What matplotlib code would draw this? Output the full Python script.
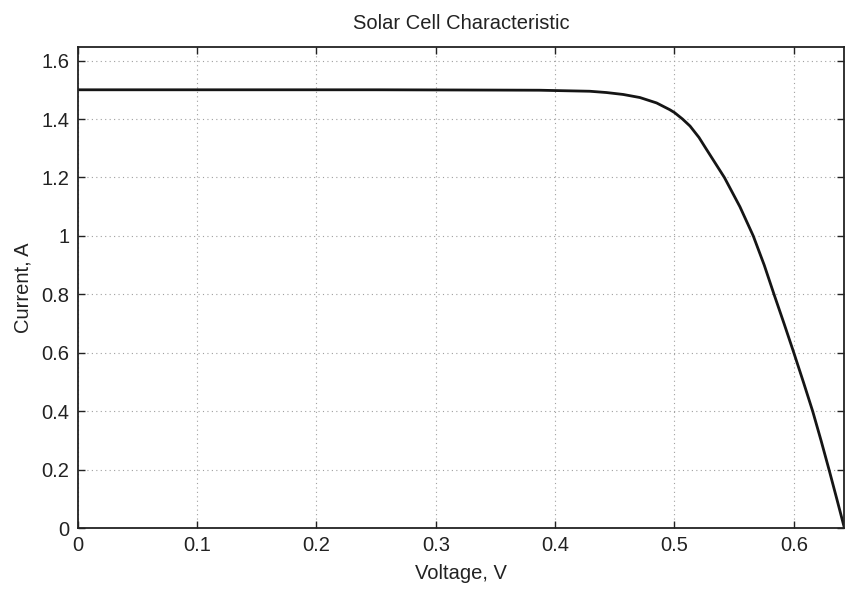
import numpy as np
import matplotlib.pyplot as plt
from matplotlib.ticker import FormatStrFormatter

plt.rcParams['font.family'] = ['Liberation Sans', 'DejaVu Sans']

# values
voltage = [0.0, 0.1, 0.2, 0.25, 0.3, 0.35, 0.387, 0.4, 0.429, 0.443, 0.457,
           0.471, 0.485, 0.496, 0.5, 0.5067, 0.513, 0.5205, 0.5262, 0.5340,
           0.5418, 0.5548, 0.5660, 0.5752, 0.5834, 0.5918, 0.600, 0.608,
           0.6158, 0.6228, 0.6295, 0.636, 0.6424]
current = [1.5, 1.5, 1.5, 1.5, 1.4995, 1.499, 1.4985, 1.4974, 1.495, 1.4906,
           1.484, 1.4735, 1.455, 1.432, 1.422, 1.400, 1.376, 1.337, 1.300,
           1.250, 1.200, 1.100, 1.000, 0.900, 0.800, 0.700, 0.600, 0.500,
           0.400, 0.300, 0.200, 0.100, 0.0]

x_ticks = [0, 0.1, 0.2, 0.3, 0.4, 0.5, 0.6]
y_ticks = [0, 0.2, 0.4, 0.6, 0.8, 1.0, 1.2, 1.4, 1.6]

fig = plt.figure(figsize=(8.46, 5.91), dpi=100)
ax = fig.add_axes([0.0918, 0.1061, 0.9064, 0.8137])

ax.plot(voltage, current, color='#151515', lw=2.0, solid_joinstyle='round')

ax.set_xlim(0, 0.6424)
ax.set_ylim(0, 1.645)
ax.set_xticks(x_ticks)
ax.set_yticks(y_ticks)
ax.xaxis.set_major_formatter(FormatStrFormatter('%g'))
ax.yaxis.set_major_formatter(FormatStrFormatter('%g'))
ax.tick_params(direction='in', length=5, width=1, labelsize=14.5, colors='#222222',
               top=True, right=True)
ax.tick_params(axis='x', pad=5.5)
ax.tick_params(axis='y', pad=6)
ax.grid(True, linestyle=(0, (1, 3)), color='#a0a0a0', lw=0.8)
for s in ax.spines.values():
    s.set_linewidth(1.3)
    s.set_color('#222222')

ax.set_title('Solar Cell Characteristic', fontsize=14.5, color='#222222', pad=13)
ax.set_xlabel('Voltage, V', fontsize=14.5, color='#222222', labelpad=6.5)
ax.set_ylabel('Current, A', fontsize=14.5, color='#222222', labelpad=6.5)

fig.savefig('out.png', dpi=100)
